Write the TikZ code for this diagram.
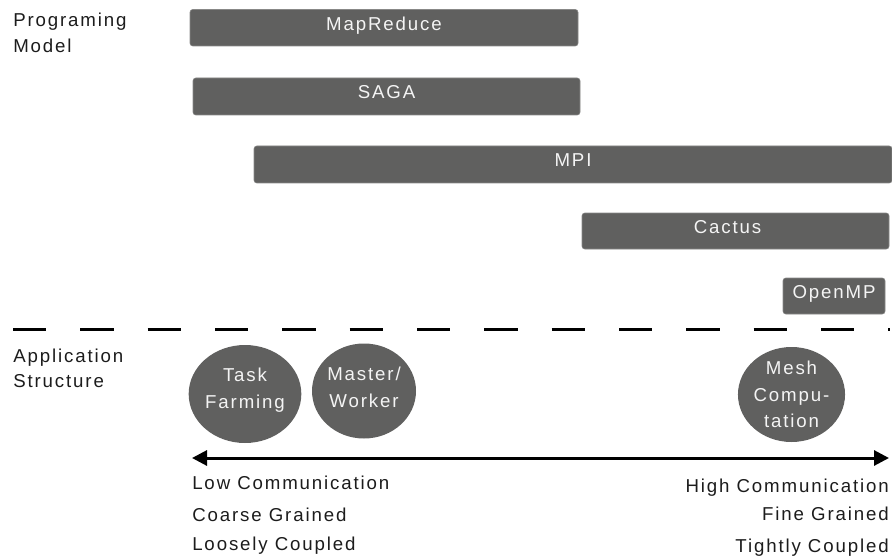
\documentclass[tikz,border=0pt]{standalone}
\usepackage{fontspec}
\setmainfont{Liberation Sans}[LetterSpace=10]
\usetikzlibrary{shapes.geometric,arrows.meta}

\definecolor{boxgray}{RGB}{96,96,95}
\definecolor{inktext}{RGB}{28,28,28}
\definecolor{boxtext}{RGB}{244,244,244}

\tikzset{
  plain/.style={font=\fontsize{14}{20}\selectfont, text=inktext, inner sep=0pt},
  bar/.style={rectangle, rounded corners=2pt, fill=boxgray, draw=boxgray!75!white,
    line width=0.4pt, inner sep=0pt, text=boxtext,
    font=\fontsize{14}{20}\selectfont, text height=8pt, text depth=4.3pt},
  blob/.style={ellipse, fill=boxgray, draw=none, inner sep=0pt, text=boxtext,
    align=center, font=\fontsize{14}{20}\selectfont},
  divider/.style={line width=2.25pt, dash pattern=on 25.1pt off 25.4pt},
  scale arrow/.style={line width=2.25pt,
    {Triangle[length=11.25pt,width=11.25pt]}-{Triangle[length=11.25pt,width=11.25pt]}}
}

\begin{document}
\begin{tikzpicture}[x=0.75pt,y=-0.75pt]
  \useasboundingbox (0,0) rectangle (892,556);

  % programming models, placed along the communication scale
  \node[bar, minimum width=388*0.75pt, minimum height=36.5*0.75pt] (mapreduce) at (384,27.75) {MapReduce};
  \node[bar, minimum width=387*0.75pt, minimum height=37*0.75pt] (saga) at (386.5,96.5) {SAGA};
  \node[bar, minimum width=638*0.75pt, minimum height=37*0.75pt] (mpi) at (573,164.5) {MPI};
  \node[bar, minimum width=307*0.75pt, minimum height=36*0.75pt] (cactus) at (735.5,231) {Cactus\hspace*{12pt}};
  \node[bar, minimum width=102*0.75pt, minimum height=36*0.75pt] (openmp) at (834,296) {OpenMP};

  % row headings
  \node[plain, anchor=base west] (prog1) at (13,27) {Programing};
  \node[plain, anchor=base west] (prog2) at (13,53) {Model};
  \node[plain, anchor=base west] (app1) at (13,362) {Application};
  \node[plain, anchor=base west] (app2) at (13,387) {Structure};

  % separator between the two rows
  \coordinate (sepL) at (13,329);
  \coordinate (sepR) at (890,329);
  \draw[divider] (sepL) -- (sepR);

  % application structures
  \node[blob, text depth=9pt, minimum width=104*0.75pt, minimum height=98*0.75pt] (task) at (245,394) {Task\\Farming};
  \node[blob, text depth=5.5pt, minimum width=104*0.75pt, minimum height=95*0.75pt] (master) at (364,391) {Master/\\Worker};
  \node[blob, minimum width=105*0.75pt, minimum height=95*0.75pt] (mesh) at (791.5,394.5) {Mesh\\Compu-\\tation};

  % communication scale
  \coordinate (lo) at (192,458);
  \coordinate (hi) at (889,458);
  \draw[scale arrow] (lo) -- (hi);

  \node[plain, anchor=base west] (low1) at (192,489) {Low Communication};
  \node[plain, anchor=base west] (low2) at (192,521) {Coarse Grained};
  \node[plain, anchor=base west] (low3) at (192,550) {Loosely Coupled};

  \node[plain, anchor=base east] (high1) at (889,492) {High Communication};
  \node[plain, anchor=base east] (high2) at (889,520) {Fine Grained};
  \node[plain, anchor=base east] (high3) at (889,552) {Tightly Coupled};
\end{tikzpicture}
\end{document}
